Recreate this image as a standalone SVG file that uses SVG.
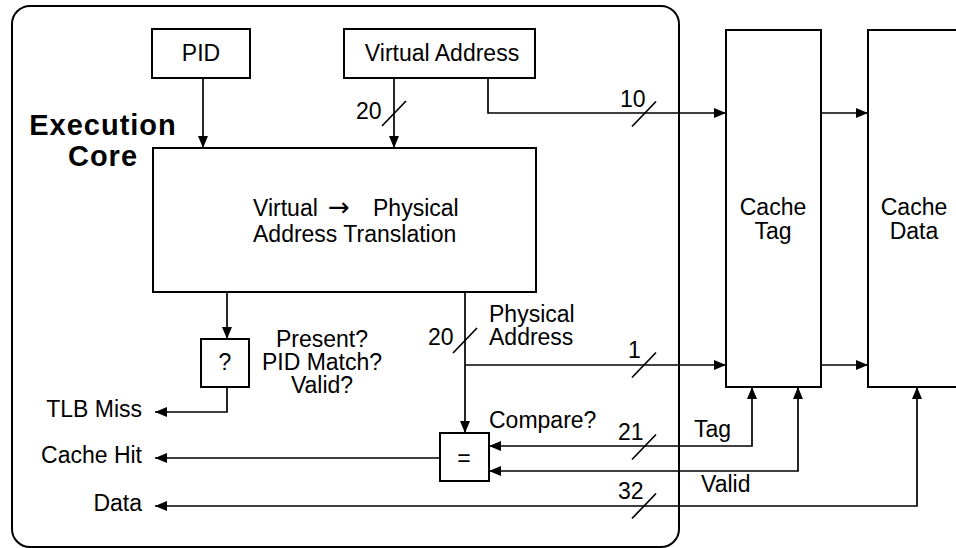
<svg xmlns="http://www.w3.org/2000/svg" xmlns:xlink="http://www.w3.org/1999/xlink" width="956" height="548" viewBox="0 0 956 548">
<style>
  .box { fill: #fff; stroke: #000; stroke-width: 2; }
  .core { fill: none; stroke: #000; stroke-width: 2; }
  .t { font-family: "Liberation Sans", Arial, Helvetica, sans-serif; font-size: 23px; fill: #000; }
  .m { text-anchor: middle; }
  .e { text-anchor: end; }
  .b { font-family: "Liberation Sans", Arial, Helvetica, sans-serif; font-size: 29px; font-weight: bold; letter-spacing: 1px; text-anchor: middle; fill: #000; }
  .ln { fill: none; stroke: #000; stroke-width: 1.7; }
  .arr { marker-end: url(#ah); }
  .arr2 { marker-start: url(#ah); marker-end: url(#ah); }
  .sl { stroke: #000; stroke-width: 1.7; }
  .ar { font-family: "DejaVu Sans", sans-serif; font-size: 26px; }
</style>
<defs>
  <marker id="ah" markerUnits="userSpaceOnUse" markerWidth="13" markerHeight="10" refX="12" refY="5" orient="auto-start-reverse">
    <path d="M0,0 L12,5 L0,10 z" fill="#000"/>
  </marker>
  <path id="slash" d="M-12,12.5 L12,-12.5"/>
</defs>

<g id="execution-core">
  <rect class="core" x="12" y="6" width="667" height="541" rx="18"/>
  <text class="b" x="103" y="135">Execution</text>
  <text class="b" x="103" y="166">Core</text>
</g>

<g id="connectors">
  <path class="ln arr" d="M203,78 V148"/>
  <path class="ln arr" d="M394,78 V148"/>
  <path class="ln arr" d="M488,78 V113 H726"/>
  <path class="ln arr" d="M821,113 H868"/>
  <path class="ln arr" d="M821,365 H868"/>
  <path class="ln arr" d="M227,292 V339"/>
  <path class="ln arr" d="M227,387 V412 H155"/>
  <path class="ln arr" d="M465,292 V433"/>
  <path class="ln arr" d="M465,365 H726"/>
  <path class="ln arr2" d="M489,446 H752 V387"/>
  <path class="ln arr2" d="M489,471 H798 V387"/>
  <path class="ln arr2" d="M155,506 H917 V387"/>
  <path class="ln arr" d="M440,458 H155"/>
  <g class="sl">
    <use xlink:href="#slash" x="394" y="113.5"/>
    <use xlink:href="#slash" x="644" y="114"/>
    <use xlink:href="#slash" x="465" y="340.5"/>
    <use xlink:href="#slash" x="644" y="365"/>
    <use xlink:href="#slash" x="644" y="447"/>
    <use xlink:href="#slash" x="644" y="506"/>
  </g>
  <text class="t" x="356" y="119">20</text>
  <text class="t" x="620" y="107">10</text>
  <text class="t" x="428" y="345">20</text>
  <text class="t" x="489" y="322">Physical</text>
  <text class="t" x="489" y="345">Address</text>
  <text class="t" x="628" y="358">1</text>
  <text class="t" x="489" y="428">Compare?</text>
  <text class="t" x="618" y="440">21</text>
  <text class="t" x="694" y="437">Tag</text>
  <text class="t" x="701" y="492">Valid</text>
  <text class="t" x="618" y="499">32</text>
  <text class="t e" x="142" y="417">TLB Miss</text>
  <text class="t e" x="142" y="463">Cache Hit</text>
  <text class="t e" x="142" y="511">Data</text>
  <text class="t m" x="322" y="347">Present?</text>
  <text class="t m" x="322" y="370">PID Match?</text>
  <text class="t m" x="322" y="393">Valid?</text>
</g>

<g id="pid">
  <rect class="box" x="152" y="29" width="98" height="49"/>
  <text class="t m" x="201" y="61">PID</text>
</g>

<g id="virtual-address">
  <rect class="box" x="344" y="29" width="191" height="49"/>
  <text class="t m" x="442" y="61">Virtual Address</text>
</g>

<g id="translation">
  <rect class="box" x="153" y="148" width="383" height="144"/>
  <text class="t" y="216"><tspan x="253">Virtual</tspan><tspan class="ar" x="328">→</tspan><tspan x="373">Physical</tspan></text>
  <text class="t" x="253" y="242">Address Translation</text>
</g>

<g id="check">
  <rect class="box" x="201" y="339" width="48" height="48"/>
  <text class="t m" x="225" y="370">?</text>
</g>

<g id="compare">
  <rect class="box" x="440" y="433" width="49" height="48"/>
  <text class="t m" x="464" y="466">=</text>
</g>

<g id="cache-tag">
  <rect class="box" x="726" y="30" width="95" height="357"/>
  <text class="t m" x="773" y="215">Cache</text>
  <text class="t m" x="773" y="239">Tag</text>
</g>

<g id="cache-data">
  <rect class="box" x="868" y="30" width="110" height="357"/>
  <text class="t m" x="914" y="215">Cache</text>
  <text class="t m" x="914" y="239">Data</text>
</g>
</svg>
